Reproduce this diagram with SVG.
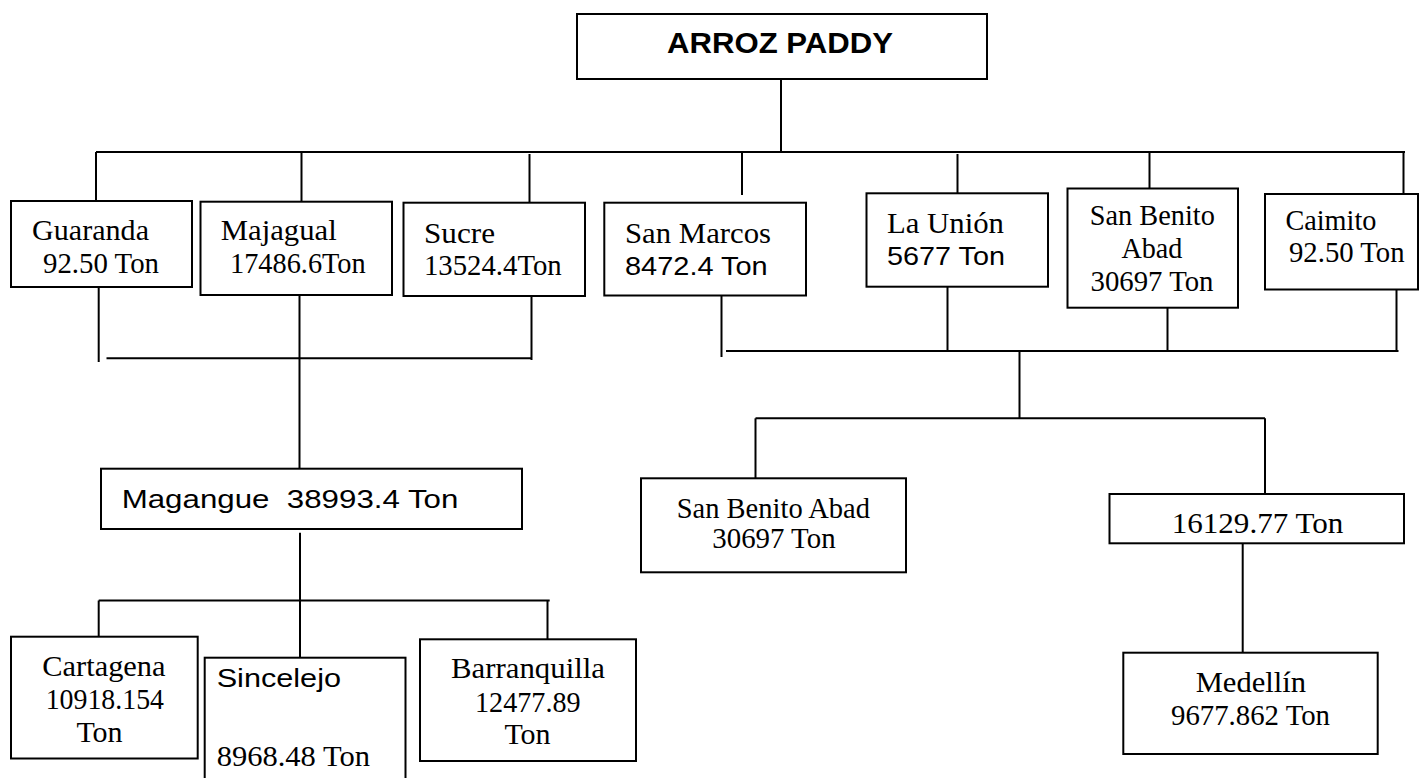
<svg xmlns="http://www.w3.org/2000/svg" width="1423" height="778" viewBox="0 0 1423 778">
<style>
.box{fill:#fff;stroke:#000;stroke-width:2}
.ln{stroke:#000;stroke-width:2;fill:none}
.t{font-family:"Liberation Serif","Times New Roman",serif;font-size:30px;fill:#000}
.a{font-family:"Liberation Sans",Arial,sans-serif;font-size:26px;fill:#000}
.title{font-family:"Liberation Sans",Arial,sans-serif;font-size:29px;font-weight:bold;fill:#000}
</style>
<rect width="1423" height="778" fill="#fff"/>
<g id="connectors">
<line class="ln" x1="781" y1="79" x2="781" y2="152"/>
<line class="ln" x1="96" y1="152" x2="1405" y2="152"/>
<line class="ln" x1="96" y1="152" x2="96" y2="203"/>
<line class="ln" x1="301.5" y1="152" x2="301.5" y2="202"/>
<line class="ln" x1="529.5" y1="154" x2="529.5" y2="203"/>
<line class="ln" x1="742" y1="152" x2="742" y2="195"/>
<line class="ln" x1="957.5" y1="154" x2="957.5" y2="195"/>
<line class="ln" x1="1149.5" y1="152" x2="1149.5" y2="193"/>
<line class="ln" x1="1403.5" y1="152" x2="1403.5" y2="196"/>
<line class="ln" x1="98.7" y1="288" x2="98.7" y2="362"/>
<line class="ln" x1="299.5" y1="295" x2="299.5" y2="469"/>
<line class="ln" x1="531.5" y1="292" x2="531.5" y2="360"/>
<line class="ln" x1="106.5" y1="358.3" x2="532" y2="358.3"/>
<line class="ln" x1="721.5" y1="293" x2="721.5" y2="357"/>
<line class="ln" x1="726" y1="351" x2="1398.5" y2="351"/>
<line class="ln" x1="947.5" y1="287" x2="947.5" y2="350"/>
<line class="ln" x1="1167.5" y1="308" x2="1167.5" y2="351"/>
<line class="ln" x1="1396.5" y1="287" x2="1396.5" y2="352"/>
<line class="ln" x1="1019.5" y1="351" x2="1019.5" y2="418.3"/>
<line class="ln" x1="755.5" y1="418.3" x2="1265" y2="418.3"/>
<line class="ln" x1="755.5" y1="418.3" x2="755.5" y2="478.3"/>
<line class="ln" x1="1265" y1="418.3" x2="1265" y2="494"/>
<line class="ln" x1="1242.7" y1="543.3" x2="1242.7" y2="652.7"/>
<line class="ln" x1="300" y1="532.7" x2="300" y2="660"/>
<line class="ln" x1="98.7" y1="600.5" x2="549.7" y2="600.5"/>
<line class="ln" x1="98.7" y1="600.5" x2="98.7" y2="636.7"/>
<line class="ln" x1="547.5" y1="600.5" x2="547.5" y2="639.3"/>
</g>
<g id="arroz-paddy">
<rect class="box" x="577" y="14" width="410" height="65"/>
<text class="title" x="667" y="53.3" textLength="226" lengthAdjust="spacingAndGlyphs">ARROZ PADDY</text>
</g>
<g id="guaranda">
<rect class="box" x="11" y="201" width="181" height="86"/>
<text class="t" x="32" y="240" textLength="117" lengthAdjust="spacingAndGlyphs">Guaranda</text>
<text class="t" x="43" y="272.7" textLength="116" lengthAdjust="spacingAndGlyphs">92.50 Ton</text>
</g>
<g id="majagual">
<rect class="box" x="200.5" y="201.7" width="191.5" height="93.3"/>
<text class="t" x="220.7" y="240" textLength="116" lengthAdjust="spacingAndGlyphs">Majagual</text>
<text class="t" x="230" y="272.7" textLength="135.7" lengthAdjust="spacingAndGlyphs">17486.6Ton</text>
</g>
<g id="sucre">
<rect class="box" x="403.5" y="202.7" width="181.5" height="93.3"/>
<text class="t" x="424" y="243.3" textLength="71" lengthAdjust="spacingAndGlyphs">Sucre</text>
<text class="t" x="424" y="275" textLength="137.7" lengthAdjust="spacingAndGlyphs">13524.4Ton</text>
</g>
<g id="san-marcos">
<rect class="box" x="604.3" y="202.7" width="201.7" height="92.8"/>
<text class="t" x="625" y="243.3" textLength="146" lengthAdjust="spacingAndGlyphs">San Marcos</text>
<text class="a" x="625" y="275" textLength="142.7" lengthAdjust="spacingAndGlyphs">8472.4 Ton</text>
</g>
<g id="la-union">
<rect class="box" x="866.5" y="193.3" width="181.5" height="93.4"/>
<text class="t" x="887" y="233.3" textLength="117" lengthAdjust="spacingAndGlyphs">La Unión</text>
<text class="a" x="887" y="265" font-size="27" textLength="118" lengthAdjust="spacingAndGlyphs">5677 Ton</text>
</g>
<g id="san-benito-abad">
<rect class="box" x="1067.5" y="188.5" width="170.5" height="119.2"/>
<text class="t" x="1089.8" y="225" textLength="125" lengthAdjust="spacingAndGlyphs">San Benito</text>
<text class="t" x="1121.4" y="258.3" textLength="61" lengthAdjust="spacingAndGlyphs">Abad</text>
<text class="t" x="1090.5" y="291" textLength="123" lengthAdjust="spacingAndGlyphs">30697 Ton</text>
</g>
<g id="caimito">
<rect class="box" x="1265" y="194" width="153" height="95.5"/>
<text class="t" x="1285.4" y="230" textLength="91" lengthAdjust="spacingAndGlyphs">Caimito</text>
<text class="t" x="1289" y="261.7" textLength="115.6" lengthAdjust="spacingAndGlyphs">92.50 Ton</text>
</g>
<g id="magangue">
<rect class="box" x="101" y="468.7" width="421" height="60.3"/>
<text class="a" x="121.7" y="507.7" font-size="31" textLength="336.7" lengthAdjust="spacingAndGlyphs" xml:space="preserve">Magangue  38993.4 Ton</text>
</g>
<g id="cartagena">
<rect class="box" x="11" y="636.7" width="186.7" height="121.8"/>
<text class="t" x="42.3" y="676" textLength="123.3" lengthAdjust="spacingAndGlyphs">Cartagena</text>
<text class="t" x="45.7" y="709.3" textLength="118.3" lengthAdjust="spacingAndGlyphs">10918.154</text>
<text class="t" x="99.5" y="741.7" text-anchor="middle" font-size="31">Ton</text>
</g>
<g id="sincelejo">
<rect class="box" x="204.7" y="657.7" width="200.8" height="140"/>
<text class="a" x="216.7" y="686.7" textLength="124.3" lengthAdjust="spacingAndGlyphs">Sincelejo</text>
<text class="t" x="216.7" y="766" textLength="153.3" lengthAdjust="spacingAndGlyphs">8968.48 Ton</text>
</g>
<g id="barranquilla">
<rect class="box" x="420" y="639.3" width="216" height="121.7"/>
<text class="t" x="451" y="677.7" textLength="154" lengthAdjust="spacingAndGlyphs">Barranquilla</text>
<text class="t" x="475" y="711.7" textLength="105.6" lengthAdjust="spacingAndGlyphs">12477.89</text>
<text class="t" x="527.5" y="744.3" text-anchor="middle">Ton</text>
</g>
<g id="san-benito-abad-2">
<rect class="box" x="641" y="478.3" width="265" height="94"/>
<text class="t" x="676.7" y="518" font-size="27" textLength="193.3" lengthAdjust="spacingAndGlyphs">San Benito Abad</text>
<text class="t" x="712.3" y="548" font-size="27" textLength="123.3" lengthAdjust="spacingAndGlyphs">30697 Ton</text>
</g>
<g id="ton-16129">
<rect class="box" x="1109.5" y="494" width="294.5" height="49.3"/>
<text class="t" x="1171.7" y="532.7" font-size="32" textLength="171.7" lengthAdjust="spacingAndGlyphs">16129.77 Ton</text>
</g>
<g id="medellin">
<rect class="box" x="1123.3" y="652.7" width="254.4" height="101.3"/>
<text class="t" x="1195.7" y="691.7" textLength="110.3" lengthAdjust="spacingAndGlyphs">Medellín</text>
<text class="t" x="1171" y="725" textLength="159" lengthAdjust="spacingAndGlyphs">9677.862 Ton</text>
</g>
</svg>
